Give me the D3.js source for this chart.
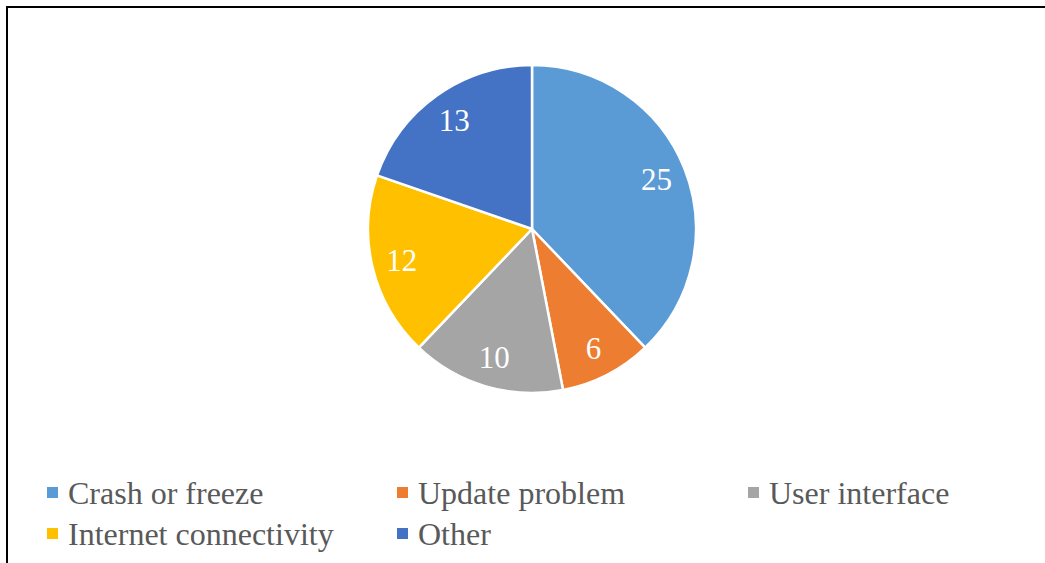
<!DOCTYPE html>
<html>
<head>
<meta charset="utf-8">
<script src="https://cdn.jsdelivr.net/npm/d3@7"></script>
<style>
html,body{margin:0;padding:0;background:#fff;}
svg{display:block;}
text{font-family:"Liberation Serif","Tinos","Nimbus Roman","Times New Roman","Times","DejaVu Serif",serif;}
</style>
</head>
<body>
<svg id="chart" width="1045" height="563"></svg>
<script>
const categories = ["Crash or freeze", "Update problem", "User interface", "Internet connectivity", "Other"];
const values = [25, 6, 10, 12, 13];
const colors = ["#5B9BD5", "#ED7D31", "#A5A5A5", "#FFC000", "#4472C4"];

const svg = d3.select("#chart");
const W = 1045, H = 563;

// frame
svg.append("line").attr("x1", 6).attr("x2", W).attr("y1", 7).attr("y2", 7)
  .attr("stroke", "#000").attr("stroke-width", 2);
svg.append("line").attr("x1", 7).attr("x2", 7).attr("y1", 6).attr("y2", H)
  .attr("stroke", "#000").attr("stroke-width", 2);

const cx = 532, cy = 229, r = 164;
const pie = d3.pie().sort(null).value(d => d)(values);
const arc = d3.arc().innerRadius(0).outerRadius(r);
const labelArc = d3.arc().innerRadius(134).outerRadius(134);

const g = svg.append("g").attr("transform", `translate(${cx},${cy})`);
g.selectAll("path").data(pie).join("path")
  .attr("d", arc)
  .attr("fill", (d, i) => colors[i])
  .attr("stroke", "#fff")
  .attr("stroke-width", 2.5)
  .attr("stroke-linejoin", "round");

g.selectAll("text").data(pie).join("text")
  .attr("transform", d => `translate(${labelArc.centroid(d)})`)
  .attr("text-anchor", "middle")
  .attr("dy", "0.35em")
  .attr("fill", "#fff")
  .attr("font-size", 31)
  .text(d => d.data);

// legend
const colX = [47, 397, 748];
const rowY = [493, 534];
const leg = svg.append("g");
categories.forEach((c, i) => {
  const col = i % 3, row = Math.floor(i / 3);
  const x = colX[col], y = rowY[row];
  leg.append("rect").attr("x", x).attr("y", y - 6).attr("width", 11).attr("height", 11)
    .attr("fill", colors[i]);
  leg.append("text").attr("x", x + 21).attr("y", y).attr("dy", "0.35em")
    .attr("fill", "#595959")
    .attr("font-size", 32)
    .text(c);
});
</script>
</body>
</html>
